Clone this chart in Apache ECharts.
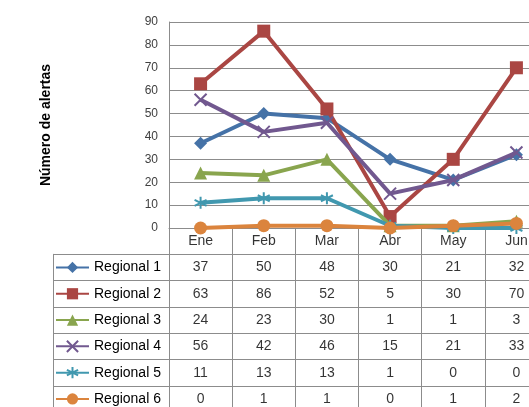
<!DOCTYPE html>
<html>
<head>
<meta charset="utf-8">
<script src="https://cdn.jsdelivr.net/npm/echarts@6/dist/echarts.min.js"></script>
<style>
  html, body { margin: 0; padding: 0; background: #fff; }
  #chart { width: 529px; height: 407px; }
</style>
</head>
<body>
<div id="chart"></div>
<script>
// data
const categories = ['Ene', 'Feb', 'Mar', 'Abr', 'May', 'Jun'];
const seriesNames = ['Regional 1', 'Regional 2', 'Regional 3', 'Regional 4', 'Regional 5', 'Regional 6'];
const regional1 = [37, 50, 48, 30, 21, 32];
const regional2 = [63, 86, 52, 5, 30, 70];
const regional3 = [24, 23, 30, 1, 1, 3];
const regional4 = [56, 42, 46, 15, 21, 33];
const regional5 = [11, 13, 13, 1, 0, 0];
const regional6 = [0, 1, 1, 0, 1, 2];
const yTicks = { min: 0, max: 90, interval: 10 };

const allValues = [regional1, regional2, regional3, regional4, regional5, regional6];
const colors = ['#4572A7', '#AA4643', '#89A54E', '#71588F', '#4198AF', '#DB843D'];
const symbols = [
    'diamond',
    'rect',
    'triangle',
    'path://M0,0L10,10M10,0L0,10',
    'path://M5,0L5,10M0,2.5L10,7.5M0,7.5L10,2.5',
    'circle'
];
const symbolSizes = [13, 13, 13, 12, 12, 13];
const strokeOnly = [false, false, false, true, true, false];

const FONT = '"Liberation Sans", Arial, sans-serif';
const GRID_COLOR = '#8c8c8c';
const ROW_H = 26.3;

const chart = echarts.init(document.getElementById('chart'));

// line series on the plot
const lineSeries = allValues.map((vals, i) => ({
    name: seriesNames[i],
    type: 'line',
    xAxisIndex: 0,
    yAxisIndex: 0,
    data: vals,
    symbol: symbols[i],
    symbolSize: symbolSizes[i],
    lineStyle: { color: colors[i], width: 4 },
    itemStyle: {
        color: colors[i],
        borderColor: colors[i],
        borderWidth: strokeOnly[i] ? 2 : 0
    },
    z: 3 + i,
    silent: true
}));

// table cells (header + values)
const cellData = [];
categories.forEach((c, m) => {
    cellData.push({ value: [m, 0], name: c });
});
allValues.forEach((vals, r) => {
    vals.forEach((v, m) => {
        cellData.push({ value: [m, r + 1], name: String(v) });
    });
});

chart.setOption({
    animation: false,
    backgroundColor: '#fff',
    grid: [
        { left: 169, top: 22, right: -19, height: 206, outerBoundsMode: 'none' },
        { left: 169, top: 228, right: -19, height: ROW_H * 7, outerBoundsMode: 'none' },
        { left: 53, top: 228 + ROW_H, width: 116, height: ROW_H * 6, outerBoundsMode: 'none' }
    ],
    legend: {
        data: seriesNames,
        orient: 'vertical',
        left: 55,
        top: 228 + ROW_H + ROW_H / 2 - 7,
        itemWidth: 33,
        itemHeight: 14,
        itemGap: ROW_H - 14,
        padding: 0,
        selectedMode: false,
        textStyle: { fontFamily: FONT, fontSize: 14, color: '#000' }
    },
    xAxis: [
        {
            type: 'category',
            gridIndex: 0,
            data: categories,
            boundaryGap: true,
            axisLine: { show: true, lineStyle: { color: GRID_COLOR, width: 1 } },
            axisTick: { show: false },
            axisLabel: { show: false },
            splitLine: { show: false }
        },
        {
            type: 'category',
            gridIndex: 1,
            data: categories,
            boundaryGap: true,
            axisLine: { show: false },
            axisTick: { show: false },
            axisLabel: { show: false },
            splitLine: { show: true, interval: 0, lineStyle: { color: GRID_COLOR, width: 1 } }
        },
        {
            type: 'value',
            gridIndex: 2,
            show: false
        }
    ],
    yAxis: [
        {
            type: 'value',
            gridIndex: 0,
            min: yTicks.min,
            max: yTicks.max,
            interval: yTicks.interval,
            name: 'Número de alertas',
            nameLocation: 'middle',
            nameGap: 116,
            nameMoveOverlap: false,
            nameTextStyle: { fontFamily: FONT, fontSize: 14, fontWeight: 'bold', color: '#000' },
            axisLine: { show: true, lineStyle: { color: GRID_COLOR, width: 1 } },
            axisTick: { show: false },
            axisLabel: { fontFamily: FONT, fontSize: 12, color: '#404040', margin: 11 },
            splitLine: { show: true, lineStyle: { color: GRID_COLOR, width: 1 } }
        },
        {
            type: 'category',
            gridIndex: 1,
            inverse: true,
            data: [''].concat(seriesNames),
            axisLine: { show: false },
            axisTick: { show: false },
            axisLabel: { show: false },
            splitLine: { show: true, interval: 0, lineStyle: { color: GRID_COLOR, width: 1 } }
        },
        {
            type: 'category',
            gridIndex: 2,
            inverse: true,
            data: seriesNames,
            axisLine: { show: true, lineStyle: { color: GRID_COLOR, width: 1 } },
            axisTick: { show: false },
            axisLabel: { show: false },
            splitLine: { show: true, interval: 0, lineStyle: { color: GRID_COLOR, width: 1 } }
        }
    ],
    series: lineSeries.concat([
        {
            type: 'scatter',
            xAxisIndex: 1,
            yAxisIndex: 1,
            data: cellData,
            symbolSize: 1,
            itemStyle: { color: 'transparent' },
            silent: true,
            label: {
                show: true,
                position: 'inside',
                formatter: '{b}',
                fontFamily: FONT,
                fontSize: 14,
                color: '#000'
            }
        }
    ])
});
</script>
</body>
</html>
